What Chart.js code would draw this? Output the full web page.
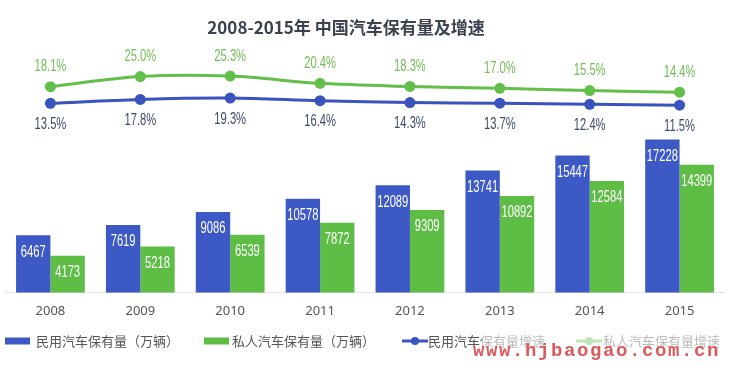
<!DOCTYPE html>
<html>
<head>
<meta charset="utf-8">
<script src="https://cdn.jsdelivr.net/npm/chart.js@4.4.0/dist/chart.umd.min.js"></script>
<style>
  html, body { margin: 0; padding: 0; background: #fff; }
  #wrap { width: 730px; height: 379px; }
</style>
</head>
<body>
<div id="wrap"><canvas id="chart"></canvas></div>
<script>
// données
const years = ['2008', '2009', '2010', '2011', '2012', '2013', '2014', '2015'];
const civilCars = [6467, 7619, 9086, 10578, 12089, 13741, 15447, 17228];
const privateCars = [4173, 5218, 6539, 7872, 9309, 10892, 12584, 14399];
const civilGrowth = [13.5, 17.8, 19.3, 16.4, 14.3, 13.7, 12.4, 11.5];
const privateGrowth = [18.1, 25.0, 25.3, 20.4, 18.3, 17.0, 15.5, 14.4];
const seriesNames = ['民用汽车保有量（万辆）', '私人汽车保有量（万辆）', '民用汽车保有量增速', '私人汽车保有量增速'];
const chartTitle = '2008-2015年 中国汽车保有量及增速';
const watermark = 'www.hjbaogao.com.cn';

const BLUE = '#3d59c6';
const GREEN = '#5dbd45';
const BLUE_LINE = '#3a53be';
const GREEN_LINE = '#62bf4a';
const CJK = '"Noto Sans CJK SC", "Noto Sans", sans-serif';

// texte étroit (chiffres condensés)
function narrowText(ctx, text, x, y, color) {
    ctx.save();
    ctx.translate(x, y);
    ctx.scale(0.7, 1);
    ctx.fillStyle = color;
    ctx.textAlign = 'center';
    ctx.textBaseline = 'middle';
    ctx.font = '16px "Liberation Sans", Arial, sans-serif';
    ctx.fillText(text, 0, 0);
    ctx.restore();
}

const valueLabels = {
    id: 'valueLabels',
    afterDatasetsDraw(chart) {
        const ctx = chart.ctx;
        chart.data.datasets.forEach((ds, i) => {
            const meta = chart.getDatasetMeta(i);
            meta.data.forEach((el, j) => {
                const v = ds.data[j];
                if (ds.type === 'line') {
                    const txt = v.toFixed(1) + '%';
                    if (ds.yAxisID === 'y1') narrowText(ctx, txt, el.x, el.y - 20, '#72bd55');
                    else narrowText(ctx, txt, el.x, el.y + 21, '#3e4b69');
                } else {
                    narrowText(ctx, String(v), el.x, el.y + 17, '#ffffff');
                }
            });
        });
    },
    afterDraw(chart) {
        const ctx = chart.ctx;
        const ds = chart.data.datasets;
        ctx.save();
        // titre
        ctx.font = 'bold 17px ' + CJK;
        ctx.fillStyle = '#3c4150';
        ctx.textAlign = 'center';
        ctx.textBaseline = 'middle';
        ctx.fillText(chartTitle, 346, 28);

        // légende
        const ly = 341;
        ctx.font = '13px ' + CJK;
        ctx.textAlign = 'left';
        ctx.fillStyle = ds[0].backgroundColor;
        ctx.fillRect(5, ly - 3.5, 25, 7);
        ctx.fillStyle = ds[1].backgroundColor;
        ctx.fillRect(204, ly - 3.5, 25, 7);
        [[402, ds[2].borderColor], [576, ds[3].borderColor]].forEach(([x, c]) => {
            ctx.strokeStyle = c;
            ctx.lineWidth = 3;
            ctx.beginPath();
            ctx.moveTo(x, ly);
            ctx.lineTo(x + 26, ly);
            ctx.stroke();
            ctx.fillStyle = c;
            ctx.beginPath();
            ctx.arc(x + 13, ly, 4, 0, Math.PI * 2);
            ctx.fill();
        });
        ctx.fillStyle = '#555';
        ctx.fillText(ds[0].label, 36, ly);
        ctx.fillText(ds[1].label, 232, ly);
        ctx.fillText(ds[2].label, 428, ly);
        ctx.fillText(ds[3].label, 603, ly);

        // voile blanc + filigrane
        ctx.fillStyle = 'rgba(255,255,255,0.6)';
        ctx.fillRect(482, 330, 248, 24);
        ctx.font = 'bold 19px "Liberation Mono", "DejaVu Sans Mono", monospace';
        ctx.letterSpacing = '1.6px';
        ctx.fillStyle = '#dc5a5a';
        ctx.fillText(watermark, 473, 351);
        ctx.restore();
    }
};

const ctx = document.getElementById('chart');
const chart = new Chart(ctx, {
    data: {
        labels: years,
        datasets: [
            { type: 'bar', label: seriesNames[0], data: civilCars, backgroundColor: BLUE, yAxisID: 'y', order: 2 },
            { type: 'bar', label: seriesNames[1], data: privateCars, backgroundColor: GREEN, yAxisID: 'y', order: 2 },
            {
                type: 'line', label: seriesNames[2], data: civilGrowth, yAxisID: 'y2', order: 1,
                borderColor: BLUE_LINE, backgroundColor: BLUE_LINE, borderWidth: 3, tension: 0.35,
                pointRadius: 5.5, pointBorderWidth: 0, pointBackgroundColor: BLUE_LINE
            },
            {
                type: 'line', label: seriesNames[3], data: privateGrowth, yAxisID: 'y1', order: 1,
                borderColor: GREEN_LINE, backgroundColor: GREEN_LINE, borderWidth: 3, tension: 0.35,
                pointRadius: 5.5, pointBorderWidth: 0, pointBackgroundColor: GREEN_LINE
            }
        ]
    },
    options: {
        responsive: true,
        maintainAspectRatio: false,
        animation: false,
        layout: { padding: { top: 46, left: 3, right: 4, bottom: 48.6 } },
        datasets: { bar: { categoryPercentage: 0.765, barPercentage: 1 } },
        plugins: {
            legend: { display: false },
            title: { display: false },
            tooltip: { enabled: false }
        },
        scales: {
            x: {
                grid: { display: false, drawTicks: false },
                border: { display: true, color: '#e6e6e6', width: 1 },
                ticks: { padding: 11, color: '#555', font: { family: '"Noto Sans", sans-serif', size: 13 } }
            },
            y: { display: false, min: 0, max: 27750 },
            y1: { display: false, min: -121.6, max: 45.7 },
            y2: { display: false, min: -196.3, max: 77 }
        }
    },
    plugins: [valueLabels]
});
</script>
</body>
</html>
